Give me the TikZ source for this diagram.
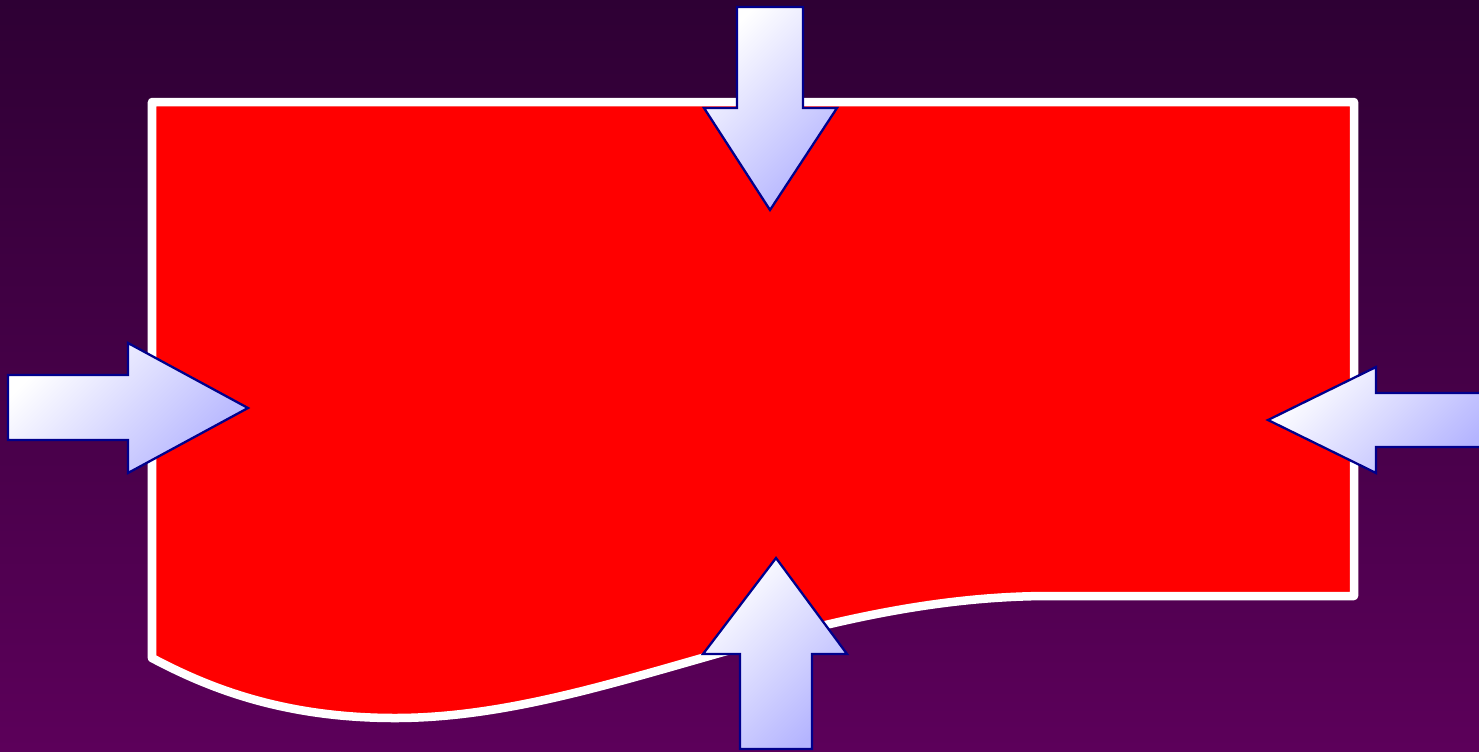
\documentclass[tikz,border=0pt]{standalone}
\usepackage{xcolor}
\usepackage{tikz}
\usetikzlibrary{calc}
\definecolor{bgtop}{RGB}{46,0,52}
\definecolor{bgbot}{RGB}{92,0,90}
\definecolor{docred}{RGB}{255,0,0}
\definecolor{arrowblue}{RGB}{180,180,255}
\definecolor{arrowline}{RGB}{0,0,140}

\begin{document}
\begin{tikzpicture}[x=0.01cm,y=0.01cm,
    bigarrow/.style={draw=arrowline,line width=0.65pt,line join=miter,
      shading=axis,top color=white,bottom color=arrowblue,shading angle=45},
    docshape/.style={fill=docred,draw=white,line width=0.085cm,line join=round}]
  % background
  \shade[top color=bgtop,bottom color=bgbot] (0,0) rectangle (1479,-751);
  \useasboundingbox (0,0) rectangle (1479,-751);
  % document shape
  \draw[docshape] (152,-102) -- (1354,-102) -- (1354,-596) -- (1050,-596)
    .. controls (800,-596) and (600,-718) .. (395,-718)
    .. controls (280,-718) and (205,-686) .. (152,-658) -- cycle;
  % arrows
  \path[bigarrow] (737,-7) -- (803,-7) -- (803,-108) -- (837,-108) -- (770,-210)
    -- (704,-108) -- (737,-108) -- cycle;
  \path[bigarrow] (8,-375) -- (128,-375) -- (128,-343) -- (248,-408) -- (128,-473)
    -- (128,-440) -- (8,-440) -- cycle;
  \path[bigarrow] (1490,-393) -- (1376,-393) -- (1376,-367) -- (1268,-420) -- (1376,-473)
    -- (1376,-447) -- (1490,-447);
  \path[bigarrow] (740,-749) -- (740,-654) -- (703,-654) -- (776,-558) -- (847,-654)
    -- (812,-654) -- (812,-749) -- cycle;
\end{tikzpicture}
\end{document}
